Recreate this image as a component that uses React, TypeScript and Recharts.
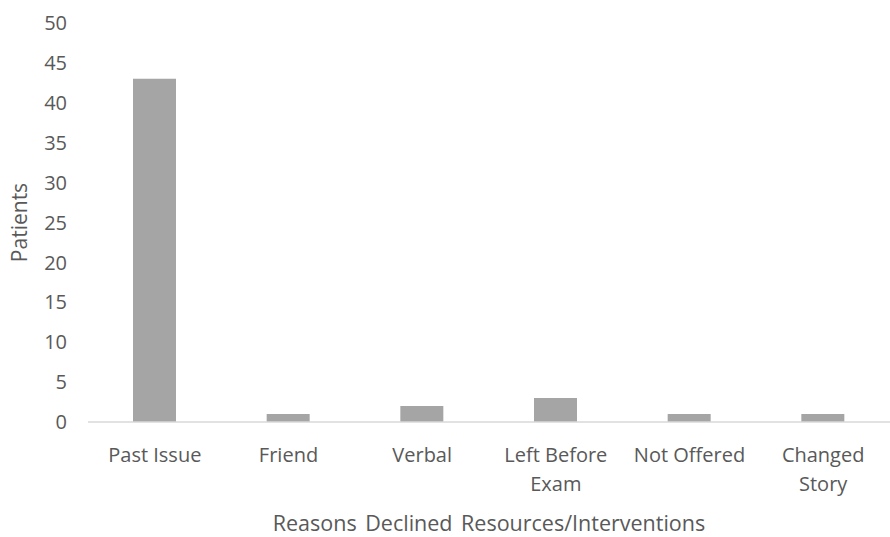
import { BarChart, Bar, XAxis, YAxis } from 'recharts';

const categories = ['Past Issue', 'Friend', 'Verbal', 'Left Before\nExam', 'Not Offered', 'Changed\nStory'];
const patients = [43, 1, 2, 3, 1, 1];
const yTicks = [0, 5, 10, 15, 20, 25, 30, 35, 40, 45, 50];

const data = categories.map((name, i) => ({ name, value: patients[i] }));

const FONT = '"Open Sans", "Segoe UI", sans-serif';
const TEXT = '#595959';

// multi-line category labels
const CategoryTick = ({ x, y, payload }: any) => {
  const lines = String(payload.value).split('\n');
  return (
    <text x={x} y={y} textAnchor="middle" fill={TEXT} fontSize={20} fontFamily={FONT}>
      {lines.map((line, i) => (
        <tspan key={i} x={x} dy={i === 0 ? '0.71em' : 29}>
          {line}
        </tspan>
      ))}
    </text>
  );
};

const YTitle = ({ viewBox }: any) => {
  const cx = viewBox.x + 19;
  const cy = viewBox.y + viewBox.height / 2;
  return (
    <text
      x={cx}
      y={cy}
      transform={`rotate(-90, ${cx}, ${cy})`}
      textAnchor="middle"
      dominantBaseline="central"
      fill={TEXT}
      fontSize={21}
      fontFamily={FONT}
    >
      Patients
    </text>
  );
};

export default function App() {
  return (
    <div style={{ position: 'absolute', left: 0, top: 0, width: 890, height: 537, background: '#fff' }}>
      <BarChart width={890} height={537} data={data} margin={{ top: 23, right: 0, left: 0, bottom: 0 }}>
        <XAxis
          dataKey="name"
          height={115}
          tick={<CategoryTick />}
          tickLine={false}
          axisLine={{ stroke: '#d9d9d9', strokeWidth: 1.5 }}
          tickMargin={20}
          interval={0}
          label={{
            value: 'Reasons Declined Resources/Interventions',
            position: 'insideBottom',
            offset: 6,
            fill: TEXT,
            fontSize: 21.5,
            fontFamily: FONT,
            wordSpacing: 3,
          }}
        />
        <YAxis
          width={88}
          domain={[0, 50]}
          ticks={yTicks}
          tickLine={false}
          axisLine={false}
          tickSize={0}
          tickMargin={21}
          tick={{ fill: TEXT, fontSize: 20, fontFamily: FONT }}
          label={{ content: <YTitle /> }}
        />
        <Bar dataKey="value" fill="#a5a5a5" barSize={43} isAnimationActive={false} />
      </BarChart>
    </div>
  );
}
